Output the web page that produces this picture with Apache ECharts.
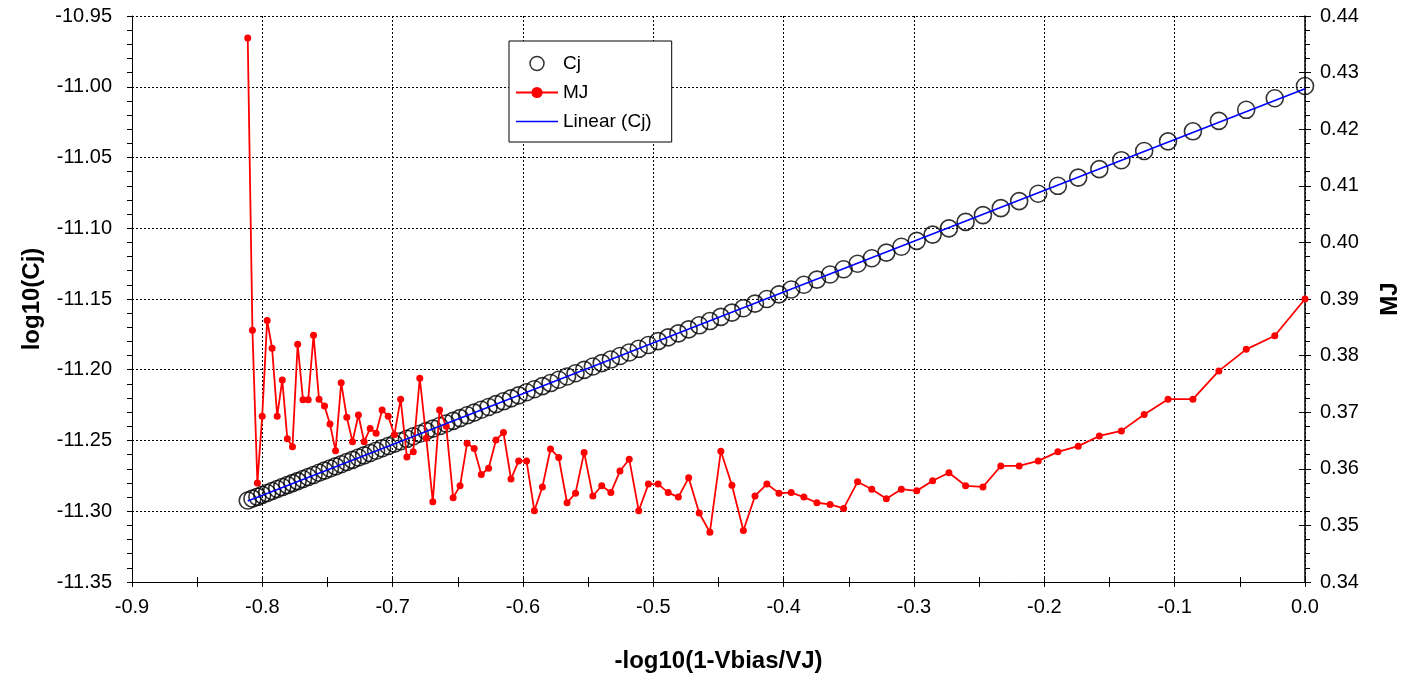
<!DOCTYPE html>
<html>
<head>
<meta charset="utf-8">
<script src="https://cdn.jsdelivr.net/npm/echarts@6/dist/echarts.min.js"></script>
<style>
  html, body { margin: 0; padding: 0; background: #fff; }
  #chart { width: 1405px; height: 675px; }
</style>
</head>
<body>
<div id="chart"></div>
<script>
// x = -log10(1-Vbias/VJ), left to right
var xVals = [-0.8112, -0.8076, -0.8038, -0.8001, -0.7963, -0.7925, -0.7886, -0.7847, -0.7808, -0.7769,
  -0.7729, -0.7688, -0.7648, -0.7607, -0.7565, -0.7523, -0.7481, -0.7438, -0.7395, -0.7352,
  -0.7308, -0.7263, -0.7219, -0.7173, -0.7127, -0.7081, -0.7034, -0.6987, -0.6939, -0.6891,
  -0.6842, -0.6792, -0.6742, -0.6692, -0.6640, -0.6589, -0.6536, -0.6483, -0.6429, -0.6375,
  -0.6320, -0.6264, -0.6207, -0.6150, -0.6092, -0.6033, -0.5973, -0.5913, -0.5851, -0.5789,
  -0.5726, -0.5662, -0.5597, -0.5531, -0.5464, -0.5396, -0.5326, -0.5256, -0.5185, -0.5112,
  -0.5038, -0.4963, -0.4886, -0.4808, -0.4729, -0.4648, -0.4566, -0.4482, -0.4397, -0.4309,
  -0.4220, -0.4129, -0.4036, -0.3942, -0.3845, -0.3745, -0.3644, -0.3540, -0.3433, -0.3324,
  -0.3212, -0.3097, -0.2979, -0.2857, -0.2732, -0.2604, -0.2471, -0.2334, -0.2193, -0.2047,
  -0.1896, -0.1740, -0.1578, -0.1409, -0.1234, -0.1051, -0.0860, -0.0661, -0.0451, -0.0232, 0];

// log10(Cj)
var cjVals = [-11.2924, -11.2911, -11.2898, -11.2884, -11.2871, -11.2857, -11.2843, -11.2829, -11.2815, -11.2801,
  -11.2787, -11.2772, -11.2758, -11.2744, -11.2728, -11.2713, -11.2698, -11.2683, -11.2668, -11.2652,
  -11.2637, -11.2620, -11.2605, -11.2588, -11.2572, -11.2555, -11.2539, -11.2522, -11.2505, -11.2488,
  -11.2470, -11.2452, -11.2434, -11.2416, -11.2398, -11.2380, -11.2361, -11.2342, -11.2322, -11.2303,
  -11.2283, -11.2263, -11.2243, -11.2223, -11.2202, -11.2181, -11.2159, -11.2138, -11.2116, -11.2094,
  -11.2071, -11.2048, -11.2025, -11.2001, -11.1977, -11.1953, -11.1928, -11.1903, -11.1878, -11.1852,
  -11.1825, -11.1798, -11.1771, -11.1743, -11.1715, -11.1686, -11.1656, -11.1626, -11.1596, -11.1565,
  -11.1533, -11.1500, -11.1467, -11.1433, -11.1399, -11.1363, -11.1327, -11.1290, -11.1251, -11.1212,
  -11.1172, -11.1131, -11.1089, -11.1045, -11.1001, -11.0955, -11.0907, -11.0858, -11.0808, -11.0756,
  -11.0700, -11.0642, -11.0582, -11.0519, -11.0454, -11.0386, -11.0315, -11.0241, -11.0163, -11.0081, -10.9995];

// MJ
var mjVals = [0.4361, 0.3845, 0.3575, 0.3693, 0.3862, 0.3813, 0.3693, 0.3757, 0.3653, 0.3639,
  0.3820, 0.3722, 0.3722, 0.3836, 0.3723, 0.3711, 0.3679, 0.3632, 0.3752, 0.3691,
  0.3648, 0.3695, 0.3648, 0.3671, 0.3663, 0.3704, 0.3693, 0.3660, 0.3723, 0.3621,
  0.3630, 0.3760, 0.3654, 0.3542, 0.3704, 0.3675, 0.3549, 0.3570, 0.3645, 0.3636,
  0.3590, 0.3601, 0.3651, 0.3664, 0.3582, 0.3614, 0.3614, 0.3526, 0.3568, 0.3635,
  0.3620, 0.3540, 0.3557, 0.3629, 0.3552, 0.3570, 0.3558, 0.3596, 0.3617, 0.3526,
  0.3573, 0.3573, 0.3558, 0.3550, 0.3584, 0.3522, 0.3488, 0.3631, 0.3571, 0.3491,
  0.3552, 0.3573, 0.3557, 0.3558, 0.3550, 0.3540, 0.3537, 0.3530, 0.3577, 0.3564,
  0.3547, 0.3564, 0.3561, 0.3579, 0.3593, 0.3570, 0.3568, 0.3605, 0.3605, 0.3614,
  0.3630, 0.3640, 0.3658, 0.3667, 0.3696, 0.3723, 0.3723, 0.3773, 0.3811, 0.3835, 0.3900];

// linear trendline of Cj (least squares, like the spreadsheet does)
function fitLine(xs, ys) {
  var n = xs.length, sx = 0, sy = 0, sxx = 0, sxy = 0;
  for (var i = 0; i < n; i++) {
    sx += xs[i]; sy += ys[i]; sxx += xs[i] * xs[i]; sxy += xs[i] * ys[i];
  }
  var b = (n * sxy - sx * sy) / (n * sxx - sx * sx);
  var a = (sy - b * sx) / n;
  var x0 = Math.min.apply(null, xs), x1 = Math.max.apply(null, xs);
  return [[x0, a + b * x0], [x1, a + b * x1]];
}

var cjData = [], mjData = [];
for (var i = 0; i < xVals.length; i++) {
  cjData.push([xVals[i], cjVals[i]]);
  mjData.push([xVals[i], mjVals[i]]);
}

var font = 'Liberation Sans, Arial, sans-serif';
var gridDash = { color: '#000', width: 1, type: [2, 2] };
var lbl = { color: '#000', fontSize: 20, fontFamily: font };
var ttl = { color: '#000', fontSize: 24, fontWeight: 'bold', fontFamily: font };

var chart = echarts.init(document.getElementById('chart'));
chart.setOption({
  animation: false,
  backgroundColor: '#fff',
  grid: { left: 132, right: 100, top: 16, bottom: 93, containLabel: false, outerBoundsMode: 'none' },
  legend: {
    data: [
      { name: 'Cj', icon: 'circle', itemStyle: { color: 'rgba(0,0,0,0)', borderColor: '#000', borderWidth: 1.5 } },
      { name: 'MJ' },
      { name: 'Linear (Cj)', icon: 'path://M0,0L42,0L42,1.6L0,1.6Z' }
    ],
    orient: 'vertical',
    left: 509, top: 41,
    itemWidth: 42, itemHeight: 14, itemGap: 10,
    padding: [13, 20, 11, 6],
    borderColor: '#000', borderWidth: 1,
    backgroundColor: '#fff',
    textStyle: { color: '#000', fontSize: 19, fontFamily: font }
  },
  xAxis: [{
    type: 'value', min: -0.9, max: 0, interval: 0.1,
    name: '-log10(1-Vbias/VJ)', nameLocation: 'middle', nameGap: 67, nameTextStyle: ttl,
    axisLine: { onZero: false, lineStyle: { color: '#000', width: 1 } },
    axisTick: { length: 5, lineStyle: { color: '#000' } },
    minorTick: { show: true, splitNumber: 2, length: 5, lineStyle: { color: '#000' } },
    axisLabel: Object.assign({ margin: 15, formatter: function (v) { return v.toFixed(1); } }, lbl),
    splitLine: { show: true, lineStyle: gridDash }
  }, {
    // inner half of the crossing ticks
    type: 'value', min: -0.9, max: 0, interval: 0.1, position: 'bottom',
    axisLine: { show: false }, axisLabel: { show: false }, splitLine: { show: false },
    axisTick: { inside: true, length: 5, lineStyle: { color: '#000' } },
    minorTick: { show: true, splitNumber: 2, length: 5, lineStyle: { color: '#000' } }
  }],
  yAxis: [{
    type: 'value', min: -11.35, max: -10.95, interval: 0.05, position: 'left',
    name: 'log10(Cj)', nameLocation: 'middle', nameGap: 86, nameTextStyle: ttl,
    axisLine: { show: true, onZero: false, lineStyle: { color: '#000', width: 1 } },
    axisTick: { length: 5, lineStyle: { color: '#000' } },
    minorTick: { show: true, splitNumber: 5, length: 5, lineStyle: { color: '#000' } },
    axisLabel: Object.assign({ margin: 20, formatter: function (v) { return v.toFixed(2); } }, lbl),
    splitLine: { show: true, lineStyle: gridDash }
  }, {
    type: 'value', min: 0.34, max: 0.44, interval: 0.01, position: 'right',
    name: 'MJ', nameLocation: 'middle', nameGap: 73, nameTextStyle: ttl,
    axisLine: { show: true, onZero: false, lineStyle: { color: '#000', width: 1.5 } },
    axisTick: { length: 6, lineStyle: { color: '#000' } },
    axisLabel: Object.assign({ margin: 15, formatter: function (v) { return v.toFixed(2); } }, lbl),
    splitLine: { show: false }
  }, {
    type: 'value', min: -11.35, max: -10.95, interval: 0.05, position: 'left',
    axisLine: { show: false }, axisLabel: { show: false }, splitLine: { show: false },
    axisTick: { inside: true, length: 5, lineStyle: { color: '#000' } },
    minorTick: { show: true, splitNumber: 5, length: 5, lineStyle: { color: '#000' } }
  }, {
    type: 'value', min: 0.34, max: 0.44, interval: 0.01, position: 'right',
    axisLine: { show: false }, axisLabel: { show: false }, splitLine: { show: false },
    axisTick: { inside: true, length: 6, lineStyle: { color: '#000' } }
  }],
  series: [{
    name: 'Cj', type: 'scatter', xAxisIndex: 0, yAxisIndex: 0,
    data: cjData, symbol: 'circle', symbolSize: 17,
    itemStyle: { color: 'rgba(0,0,0,0)', borderColor: '#000', borderWidth: 1.6 },
    z: 2
  }, {
    name: 'MJ', type: 'line', xAxisIndex: 0, yAxisIndex: 1,
    data: mjData, symbol: 'circle', symbolSize: 7, showSymbol: true,
    itemStyle: { color: '#ff0000' },
    lineStyle: { color: '#ff0000', width: 1.8 },
    z: 3
  }, {
    name: 'Linear (Cj)', type: 'line', xAxisIndex: 0, yAxisIndex: 0,
    data: fitLine(xVals, cjVals), symbol: 'none',
    itemStyle: { color: '#0000ff' },
    lineStyle: { color: '#0000ff', width: 1.6 },
    z: 4
  }]
});
</script>
</body>
</html>
